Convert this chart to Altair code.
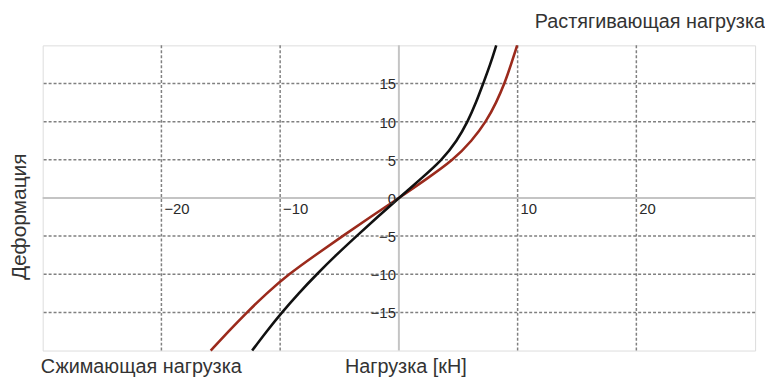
import altair as alt
import pandas as pd

# Curve data (load kN, deformation)
black_x = [-12.36, -11.15, -9.85, -8.45, -6.92, -5.3, -3.57, -1.8, 0,
           1.85, 3.65, 4.9, 5.8, 6.5, 7.1, 7.7, 8.2]
black_y = [-20, -17.5, -15, -12.5, -10, -7.5, -5, -2.5, 0,
           2.5, 5, 7.5, 10, 12.5, 15, 17.5, 20]
red_x = [-15.85, -14.35, -12.8, -11.15, -9.3, -7.05, -4.75, -2.4, 0,
         2.35, 4.6, 6.15, 7.35, 8.2, 8.9, 9.45, 9.96]
red_y = [-20, -17.5, -15, -12.5, -10, -7.5, -5, -2.5, 0,
         2.5, 5, 7.5, 10, 12.5, 15, 17.5, 20]

x_grid = [-20, -10, 10, 20]
y_grid = [-15, -10, -5, 5, 10, 15]
x_labels = [-20, -10, 10, 20]
y_labels = [-15, -10, -5, 0, 5, 10, 15]

W, H = 719, 308
XD = [-30, 30]
YD = [-20, 20]

xs = alt.Scale(domain=XD, nice=False, zero=False)
ys = alt.Scale(domain=YD, nice=False, zero=False)

df_b = pd.DataFrame({"x": black_x, "y": black_y, "i": range(len(black_x))})
df_r = pd.DataFrame({"x": red_x, "y": red_y, "i": range(len(red_x))})

vgrid = alt.Chart(pd.DataFrame({"v": x_grid})).mark_rule(
    color="#808080", strokeDash=[3, 2], strokeWidth=1.5
).encode(x=alt.X("v:Q", scale=xs, axis=None))

hgrid = alt.Chart(pd.DataFrame({"v": y_grid})).mark_rule(
    color="#808080", strokeDash=[3, 2], strokeWidth=1.5
).encode(y=alt.Y("v:Q", scale=ys, axis=None))

zero_v = alt.Chart(pd.DataFrame({"v": [0]})).mark_rule(
    color="#c4c4c4", strokeWidth=2
).encode(x=alt.X("v:Q", scale=xs, axis=None))
zero_h = alt.Chart(pd.DataFrame({"v": [0]})).mark_rule(
    color="#c4c4c4", strokeWidth=2
).encode(y=alt.Y("v:Q", scale=ys, axis=None))

xlab = alt.Chart(pd.DataFrame({"v": x_labels, "z": [0] * len(x_labels)})).mark_text(
    align="left", baseline="top", dx=3, dy=4, fontSize=15, color="#2a2a2a",
    font="Liberation Sans"
).encode(
    x=alt.X("v:Q", scale=xs, axis=None),
    y=alt.Y("z:Q", scale=ys, axis=None),
    text=alt.Text("v:Q"),
)

ylab = alt.Chart(pd.DataFrame({"v": y_labels, "z": [0] * len(y_labels)})).mark_text(
    align="right", baseline="middle", dx=-3, dy=1, fontSize=15, color="#2a2a2a",
    font="Liberation Sans"
).encode(
    x=alt.X("z:Q", scale=xs, axis=None),
    y=alt.Y("v:Q", scale=ys, axis=None),
    text=alt.Text("v:Q"),
)

line_b = alt.Chart(df_b).mark_line(
    color="#111111", strokeWidth=2.6, interpolate="basis"
).encode(
    x=alt.X("x:Q", scale=xs, axis=None),
    y=alt.Y("y:Q", scale=ys, axis=None),
    order="i:Q",
)
line_r = alt.Chart(df_r).mark_line(
    color="#9b2a1c", strokeWidth=2.6, interpolate="basis"
).encode(
    x=alt.X("x:Q", scale=xs, axis=None),
    y=alt.Y("y:Q", scale=ys, axis=None),
    order="i:Q",
)

ann_style = dict(fontSize=20, color="#333333", font="Liberation Sans")
t_top = alt.Chart(pd.DataFrame({"t": ["Растягивающая нагрузка"]})).mark_text(
    align="right", baseline="alphabetic", **ann_style
).encode(x=alt.value(729), y=alt.value(-18), text="t:N")
t_left = alt.Chart(pd.DataFrame({"t": ["Сжимающая нагрузка"]})).mark_text(
    align="left", baseline="alphabetic", **ann_style
).encode(x=alt.value(-2), y=alt.value(331), text="t:N")
t_mid = alt.Chart(pd.DataFrame({"t": ["Нагрузка [кН]"]})).mark_text(
    align="left", baseline="alphabetic", **ann_style
).encode(x=alt.value(305), y=alt.value(331), text="t:N")
t_y = alt.Chart(pd.DataFrame({"t": ["Деформация"]})).mark_text(
    align="center", baseline="middle", angle=270,
    fontSize=21, color="#333333", font="Liberation Sans"
).encode(x=alt.value(-23), y=alt.value(173), text="t:N")

chart = alt.layer(
    vgrid, hgrid, zero_v, zero_h, line_r, line_b, xlab, ylab,
    t_top, t_left, t_mid, t_y
).properties(
    width=W, height=H,
    autosize=alt.AutoSizeParams(type="none"),
    padding={"left": 35, "top": 36, "right": 10, "bottom": 28},
).configure_view(
    stroke="#8c8c8c", strokeWidth=2
).configure(background="#ffffff")

chart.save("out.html", embed_options={"renderer": "svg", "actions": False})
